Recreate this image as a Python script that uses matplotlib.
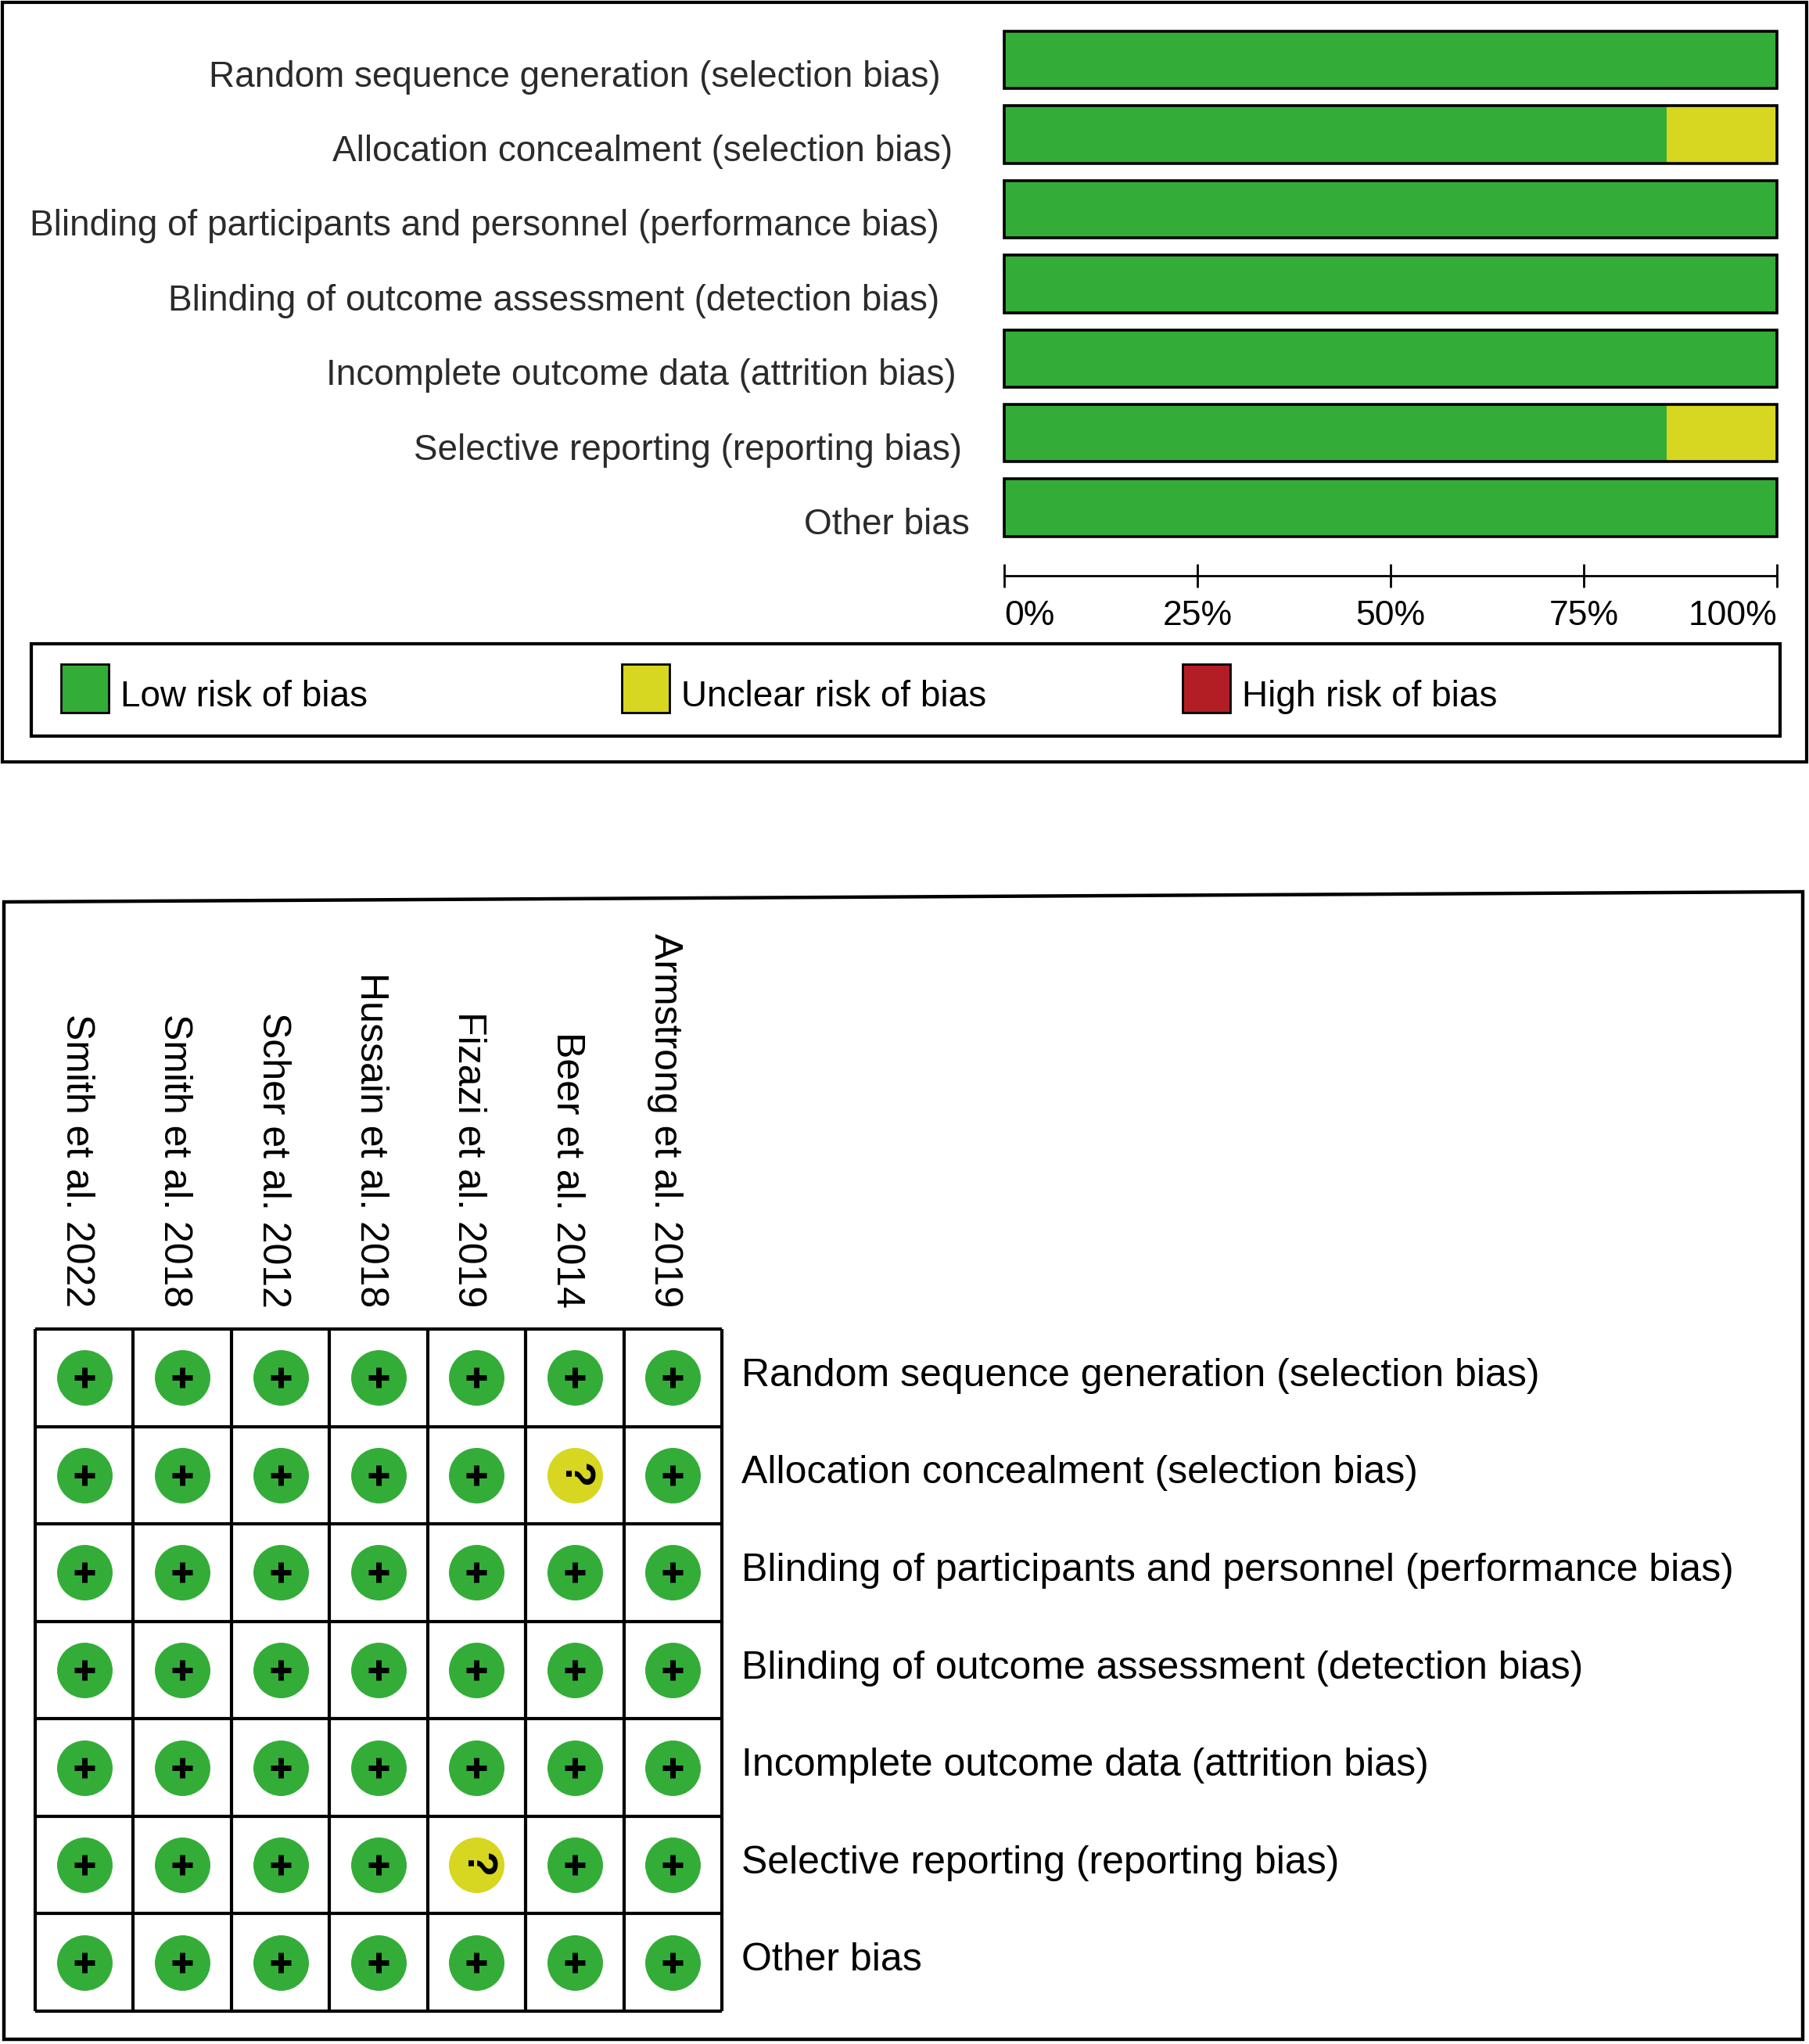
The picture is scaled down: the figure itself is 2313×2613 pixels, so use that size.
import numpy as np
import matplotlib.pyplot as plt
from matplotlib.patches import Rectangle, Polygon

plt.rcParams['font.family'] = ['Liberation Sans', 'DejaVu Sans']

# Domaines du risque de biais
domaines = [
    'Random sequence generation (selection bias)',
    'Allocation concealment (selection bias)',
    'Blinding of participants and personnel (performance bias)',
    'Blinding of outcome assessment (detection bias)',
    'Incomplete outcome data (attrition bias)',
    'Selective reporting (reporting bias)',
    'Other bias',
]

# Etudes (colonnes du tableau)
etudes = [
    'Smith et al. 2022',
    'Smith et al. 2018',
    'Scher et al. 2012',
    'Hussain et al. 2018',
    'Fizazi et al. 2019',
    'Beer et al. 2014',
    'Armstrong et al. 2019',
]

# Jugement par domaine (ligne) et par etude (colonne): L = low, U = unclear, H = high
jugements = [
    ['L', 'L', 'L', 'L', 'L', 'L', 'L'],
    ['L', 'L', 'L', 'L', 'L', 'U', 'L'],
    ['L', 'L', 'L', 'L', 'L', 'L', 'L'],
    ['L', 'L', 'L', 'L', 'L', 'L', 'L'],
    ['L', 'L', 'L', 'L', 'L', 'L', 'L'],
    ['L', 'L', 'L', 'L', 'U', 'L', 'L'],
    ['L', 'L', 'L', 'L', 'L', 'L', 'L'],
]

niveaux = ['L', 'U', 'H']
legende = ['Low risk of bias', 'Unclear risk of bias', 'High risk of bias']
couleurs = {'L': '#33ad38', 'U': '#d7d620', 'H': '#b31e24'}
symboles = {'L': '+', 'U': '?', 'H': '-'}

ticks_pct = [0, 0.25, 0.5, 0.75, 1.0]
ticks_lbl = ['0%', '25%', '50%', '75%', '100%']

# Petits decalages (pixels) des libelles du haut, qui ne sont pas alignes dans l'original
decalages = [-10, 5, -12, -12, 10, 17, 27]

W, H = 2313, 2613
fig = plt.figure(figsize=(W / 100, H / 100), dpi=100)


def boite(l, t, w, h):
    # position en pixels (depuis le haut) -> fraction de figure
    return [l / W, 1 - (t + h) / H, w / W, h / H]


# Fond en coordonnees pixels pour les cadres et la legende
bg = fig.add_axes([0, 0, 1, 1])
bg.set_xlim(0, W)
bg.set_ylim(H, 0)
bg.axis('off')

bg.add_patch(Rectangle((3, 3), 2307, 971, fill=False, ec='black', lw=3))
bg.add_patch(Polygon([(5, 1153), (2305, 1140), (2305, 2607), (5, 2607)],
                     closed=True, fill=False, ec='black', lw=3.2))

# Legende
bg.add_patch(Rectangle((40, 823), 2236, 118, fill=False, ec='black', lw=3))
for k, niv in enumerate(niveaux):
    x0 = [78, 795, 1512][k]
    bg.add_patch(Rectangle((x0, 849), 61, 62, fc=couleurs[niv], ec='black', lw=2))
    bg.text(x0 + 76, 891, legende[k], fontsize=33, ha='left', va='center')

# ---------- Graphique en barres ----------
n = len(domaines)
ax1 = fig.add_axes(boite(1284, 29, 988, 707))
props = np.array([[row.count(niv) / len(row) for niv in niveaux] for row in jugements])
y = np.arange(n)
gauche = np.zeros(n)
for k, niv in enumerate(niveaux):
    ax1.barh(y, props[:, k], left=gauche, height=0.77, color=couleurs[niv],
             linewidth=0, clip_on=False)
    gauche += props[:, k]
ax1.barh(y, props.sum(axis=1), height=0.77, fill=False, edgecolor='black',
         linewidth=2.6, clip_on=False)

ax1.set_xlim(0, 1)
ax1.set_ylim(6.912, -0.5)
for s in ['top', 'left', 'right']:
    ax1.spines[s].set_visible(False)
ax1.spines['bottom'].set_linewidth(2)
ax1.set_yticks([])
ax1.set_xticks(ticks_pct)
ax1.set_xticklabels(ticks_lbl, fontsize=32)
ax1.tick_params(axis='x', direction='inout', length=21, width=2, pad=12)
lbls = ax1.get_xticklabels()
lbls[0].set_ha('left')
lbls[-1].set_ha('right')

for i, d in enumerate(domaines):
    ax1.text(-0.072 + decalages[i] / 988, i + 0.23, d, fontsize=33, color='#2b2b2b',
             ha='right', va='center')

# ---------- Tableau des jugements ----------
m = len(etudes)
ax2 = fig.add_axes(boite(45, 1699, 878, 872))
ax2.set_xlim(0, m)
ax2.set_ylim(n, 0)
ax2.axis('off')
ax2.vlines(np.arange(m + 1), 0, n, color='black', lw=3, clip_on=False)
ax2.hlines(np.arange(n + 1), 0, m, color='black', lw=3, clip_on=False)

for i in range(n):
    for j in range(m):
        v = jugements[i][j]
        ax2.scatter(j + 0.5, i + 0.5, s=2611, color=couleurs[v], linewidths=0, zorder=3)
        if v == 'U':
            ax2.text(j + 0.5, i + 0.5, symboles[v], fontsize=38, fontweight='bold',
                     rotation=-90, ha='center', va='center', zorder=4)
        else:
            ax2.scatter(j + 0.5, i + 0.5, marker=symboles[v], s=340, color='black',
                        linewidths=5, zorder=4)

for j, e in enumerate(etudes):
    ax2.text(j + 0.42, -0.22, e, fontsize=36, rotation=270,
             ha='center', va='bottom')

for i, d in enumerate(domaines):
    ax2.text(m + 0.2, i + 0.48, d, fontsize=36, ha='left', va='center')

fig.savefig('out.png', dpi=100)
